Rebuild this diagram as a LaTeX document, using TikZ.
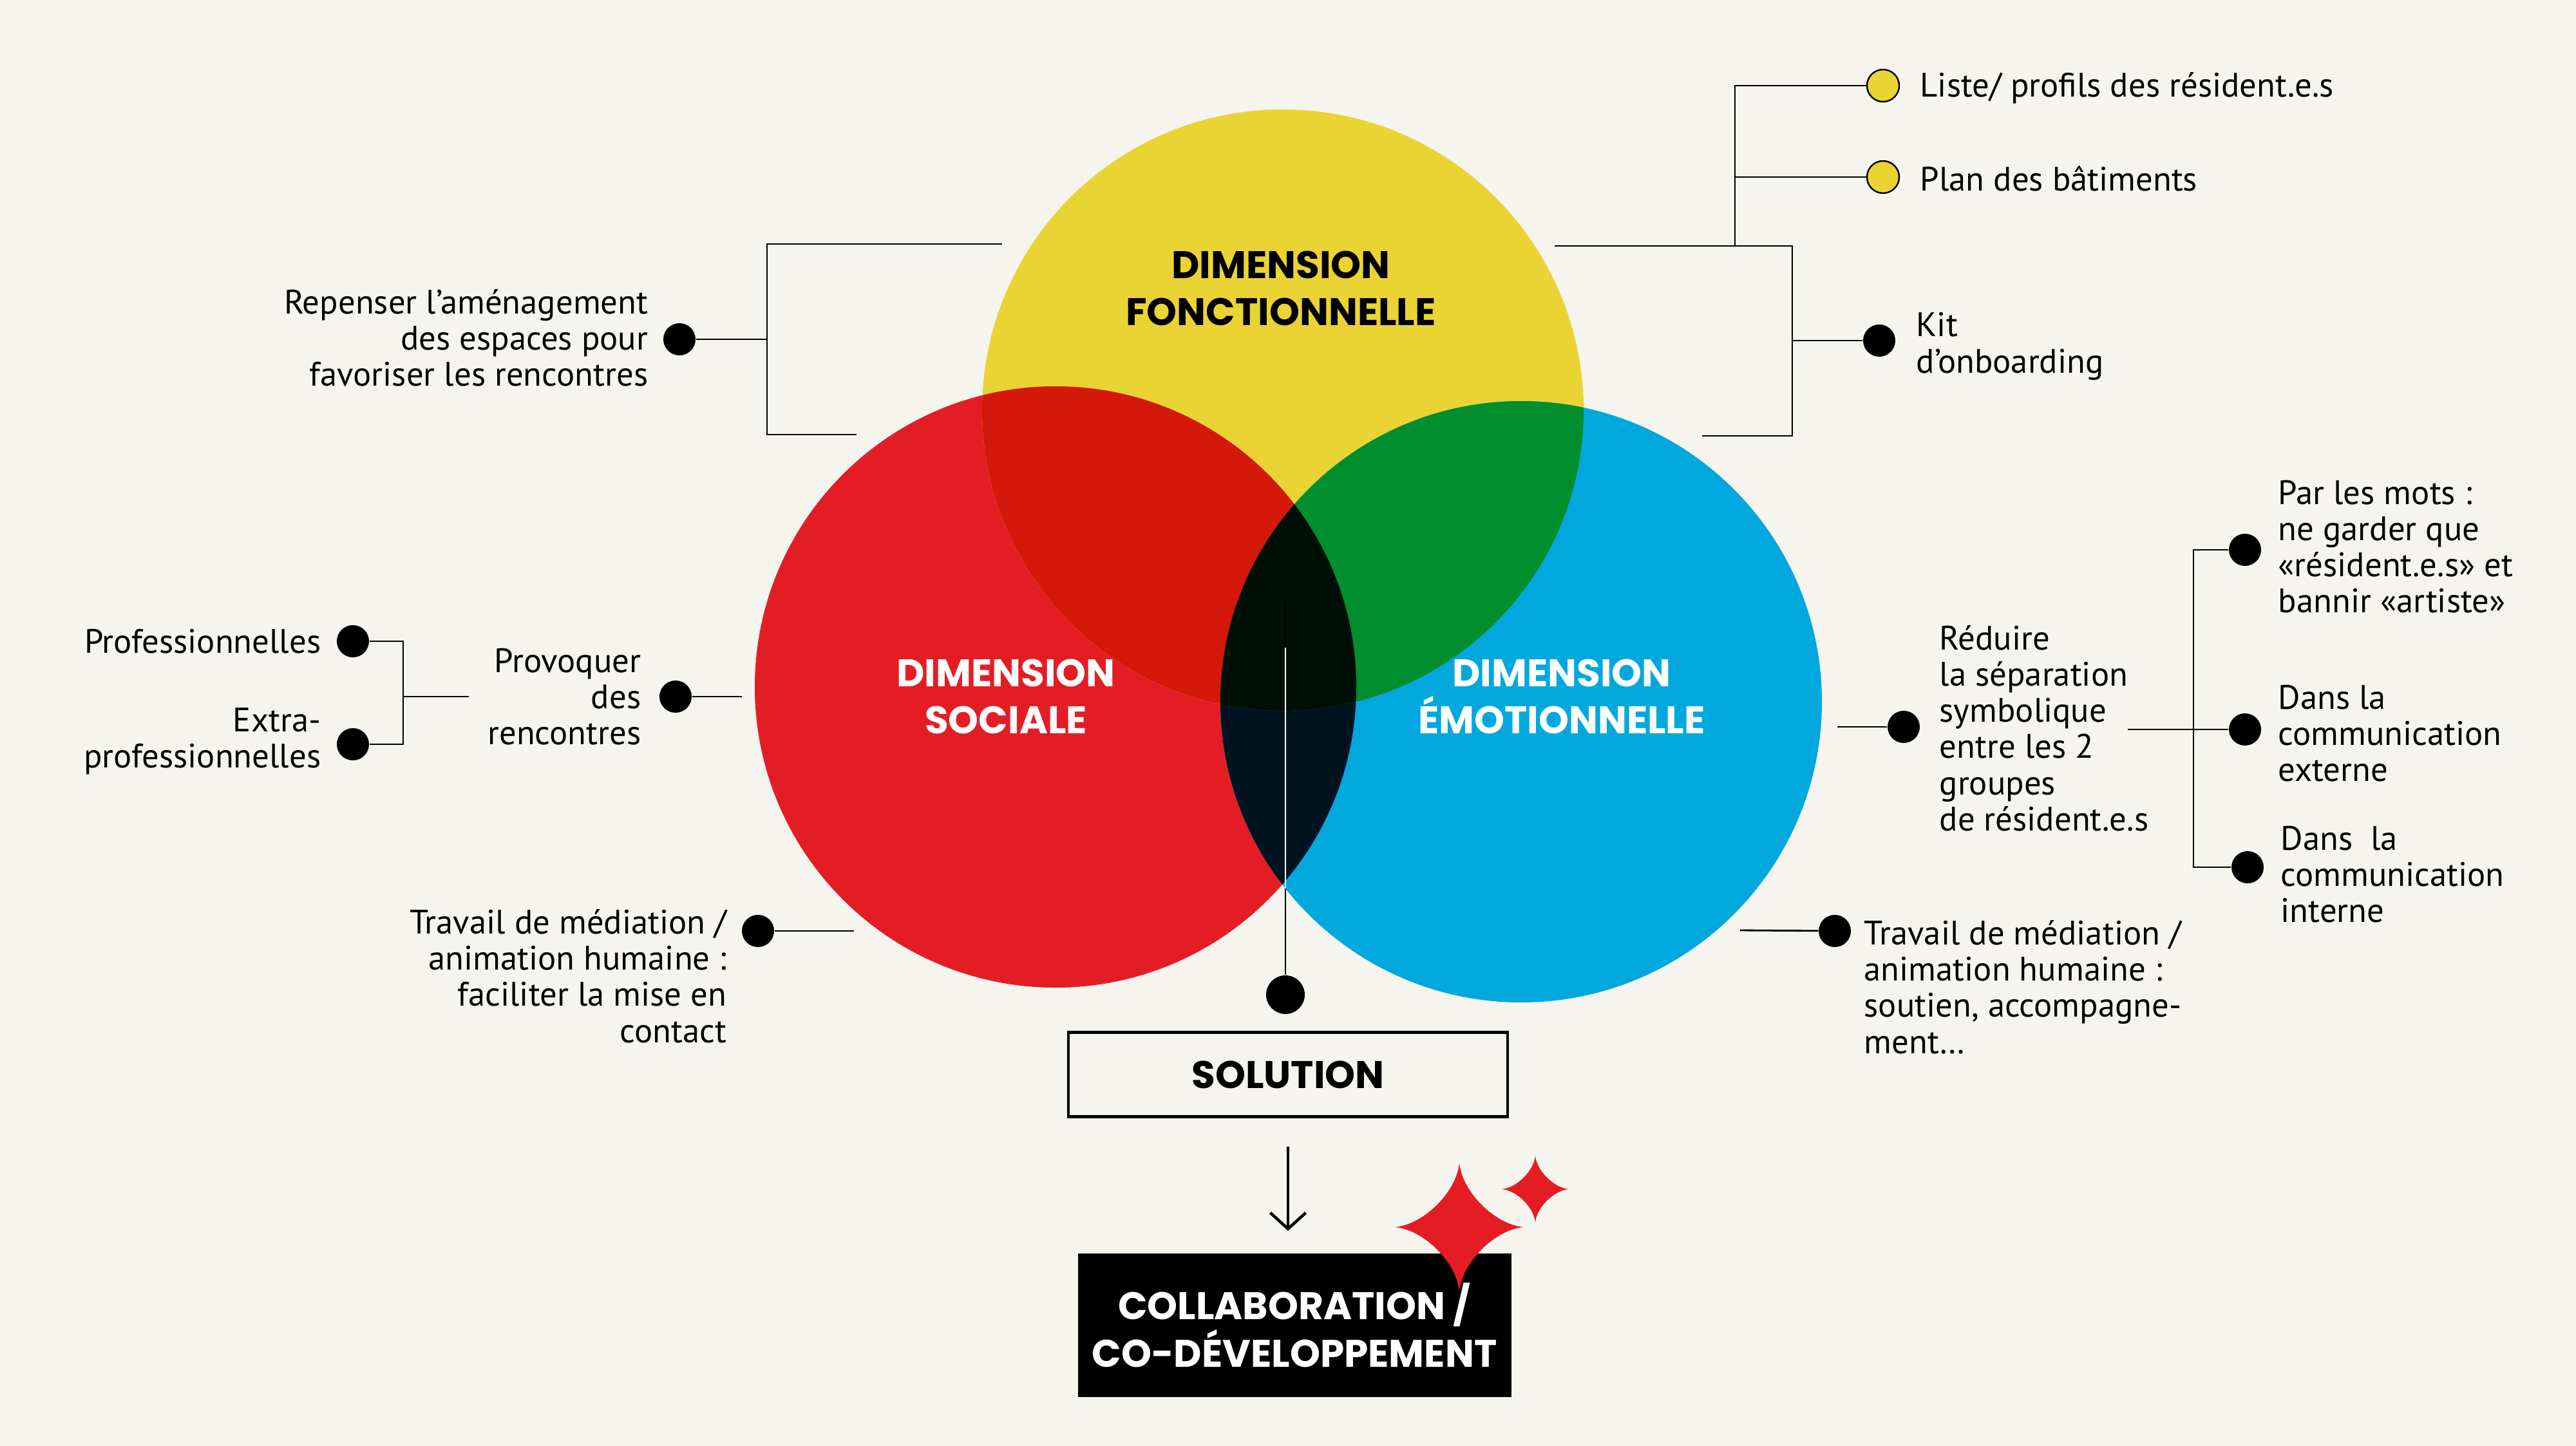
\documentclass[tikz,border=0pt]{standalone}
\usepackage{fontspec}
\setmainfont{PT Sans}
\newfontfamily\headfont{Poppins}
\usetikzlibrary{arrows.meta,positioning}

\definecolor{cream}{HTML}{F5F4EE}
\definecolor{vyellow}{RGB}{234,212,52}
\definecolor{vred}{RGB}{228,29,37}
\definecolor{vblue}{RGB}{0,168,221}
\definecolor{redyel}{RGB}{212,24,9}
\definecolor{yelblue}{RGB}{0,142,46}
\definecolor{redblue}{RGB}{0,19,33}
\definecolor{allthree}{RGB}{0,16,7}

\begin{document}
\begin{tikzpicture}[
  dot/.style={circle, fill=black, inner sep=0pt, minimum size=0.5cm},
  ydot/.style={dot, fill=vyellow, draw=black, line width=0.7pt},
  wire/.style={line width=0.8pt},
  lbl/.style={font=\fontsize{15}{16}\selectfont, inner sep=0pt,
    align=left},
  lblr/.style={lbl, align=right},
  head/.style={font=\headfont\bfseries\fontsize{17}{21}\selectfont,
    align=center, inner sep=0pt}]

\useasboundingbox (0,0) rectangle (40,-22.46);
\fill[cream] (0,0) rectangle (40,-22.46);

% Three dimensions
\coordinate (cY) at (19.92,-6.37);
\coordinate (cR) at (16.39,-10.67);
\coordinate (cB) at (23.62,-10.90);
\fill[vred] (cR) circle [radius=4.67];
\fill[vyellow] (cY) circle [radius=4.67];
\fill[vblue] (cB) circle [radius=4.67];
\begin{scope}
  \clip (cR) circle [radius=4.67];
  \fill[redyel] (cY) circle [radius=4.67];
  \fill[redblue] (cB) circle [radius=4.67];
\end{scope}
\begin{scope}
  \clip (cY) circle [radius=4.67];
  \fill[yelblue] (cB) circle [radius=4.67];
  \clip (cR) circle [radius=4.67];
  \fill[allthree] (cB) circle [radius=4.67];
\end{scope}

\node[head] (fonct) at (19.89,-4.48) {DIMENSION\\FONCTIONNELLE};
\node[head, text=white] (soc) at (15.62,-10.82) {DIMENSION\\SOCIALE};
\node[head, text=white] (emo) at (24.25,-10.82) {DIMENSION\\ÉMOTIONNELLE};

% Centre line down to the solution
\coordinate (ctop) at (19.96,-9.28);
\coordinate (wA) at (19.96,-10.06);
\coordinate (wB) at (19.96,-13.80);
\node[dot, minimum size=0.6cm] (sol) at (19.96,-15.45) {};
\draw[wire] (ctop) -- (sol);
\draw[wire, white] (wA) -- (wB);

% Fonctionnelle -- left bracket
\coordinate (tlA) at (15.56,-3.79);
\coordinate (tlB) at (13.30,-6.75);
\coordinate (tlV) at (11.91,-5.27);
\node[dot] (amen) at (10.55,-5.27) {};
\node[lblr, anchor=east] (amenT) at (10.07,-5.25)
  {Repenser l’aménagement\\des espaces pour\\favoriser les rencontres};
\draw[wire] (tlA) -| (tlV) |- (tlB);
\draw[wire] (amen) -- (tlV);

% Fonctionnelle -- right bracket
\coordinate (frA) at (24.14,-3.82);
\coordinate (frB) at (26.43,-6.77);
\coordinate (frJ) at (26.94,-3.82);
\coordinate (frV) at (27.83,-5.29);
\node[ydot] (liste) at (29.24,-1.33) {};
\node[ydot] (plan) at (29.24,-2.75) {};
\node[dot] (kit) at (29.18,-5.29) {};
\node[lbl, anchor=west] (listeT) at (29.81,-1.37)
  {Liste/ profils des résident.e.s};
\node[lbl, anchor=west] (planT) at (29.81,-2.78) {Plan des bâtiments};
\node[lbl, anchor=west] (kitT) at (29.75,-5.38) {Kit\\d’onboarding};
\draw[wire] (frA) -| (frV) |- (frB);
\draw[wire] (frV) -- (kit);
\draw[wire] (liste) -| (frJ);
\draw[wire] (plan) -- (plan -| frJ);

% Sociale
\coordinate (socL) at (11.52,-10.82);
\coordinate (socB) at (13.26,-14.46);
\coordinate (prV) at (6.26,-10.82);
\coordinate (prR) at (7.28,-10.82);
\node[dot] (prov) at (10.49,-10.82) {};
\node[lblr, anchor=east] (provT) at (9.96,-10.82)
  {Provoquer\\des\\rencontres};
\node[dot] (pro) at (5.48,-9.96) {};
\node[dot] (extra) at (5.48,-11.56) {};
\node[lblr, anchor=east] (proT) at (4.99,-9.96) {Professionnelles};
\node[lblr, anchor=east] (extraT) at (4.99,-11.51)
  {Extra-\\professionnelles};
\node[dot] (medL) at (11.77,-14.46) {};
\node[lblr, anchor=east] (medLT) at (11.29,-15.16)
  {Travail de médiation /\\animation humaine :\\faciliter la mise en\\contact};
\draw[wire] (prov) -- (socL);
\draw[wire] (prR) -- (prV);
\draw[wire] (pro) -| (prV) |- (extra);
\draw[wire] (medL) -- (socB);

% Emotionnelle
\coordinate (emoL) at (28.53,-11.29);
\coordinate (emoB) at (27.02,-14.45);
\coordinate (rdR) at (33.04,-11.33);
\coordinate (rdV) at (34.06,-11.33);
\node[dot] (red) at (29.56,-11.29) {};
\node[lbl, anchor=west] (redT) at (30.11,-11.31)
  {Réduire\\la séparation\\symbolique\\entre les 2\\groupes\\de résident.e.s};
\node[dot] (mots) at (34.86,-8.54) {};
\node[dot] (ext) at (34.86,-11.33) {};
\node[dot] (int) at (34.90,-13.47) {};
\node[lbl, anchor=west] (motsT) at (35.37,-8.49)
  {Par les mots :\\ne garder que\\«résident.e.s» et\\bannir «artiste»};
\node[lbl, anchor=west] (extT) at (35.37,-11.39)
  {Dans la\\communication\\externe};
\node[lbl, anchor=west] (intT) at (35.41,-13.58)
  {Dans\ \ la\\communication\\interne};
\node[dot] (medR) at (28.49,-14.46) {};
\node[lbl, anchor=west] (medRT) at (28.94,-15.33)
  {Travail de médiation /\\animation humaine :\\soutien, accompagne-\\ment…};
\draw[wire] (emoL) -- (red);
\draw[wire] (rdR) -- (ext);
\draw[wire] (mots) -| (rdV) |- (int);
\draw[wire] (emoB) -- (medR);

% Solution and outcome
\node[draw, line width=1.2pt, minimum width=6.82cm, minimum height=1.31cm,
  head] (solution) at (20.00,-16.69) {SOLUTION};
\node[fill=black, text=white, minimum width=6.73cm, minimum height=2.23cm,
  head] (collab) at (20.10,-20.58) {COLLABORATION /\\CO-DÉVELOPPEMENT};
\draw[line width=1.3pt, -{Straight Barb[length=0.25cm, width=0.55cm]},
  shorten <=0.44cm, shorten >=0.34cm]
  (solution.south) -- (solution.south |- collab.north);

% Sparkles
\foreach \cx/\cy/\r in {22.66/-19.06/1.0, 23.84/-18.47/0.52}
  \fill[vred, shift={(\cx,\cy)}, scale=\r]
    (0,1) .. controls (0.04,0.55) and (0.55,0.04) .. (1,0)
    .. controls (0.55,-0.04) and (0.04,-0.55) .. (0,-1)
    .. controls (-0.04,-0.55) and (-0.55,-0.04) .. (-1,0)
    .. controls (-0.55,0.04) and (-0.04,0.55) .. (0,1) -- cycle;

\end{tikzpicture}
\end{document}
